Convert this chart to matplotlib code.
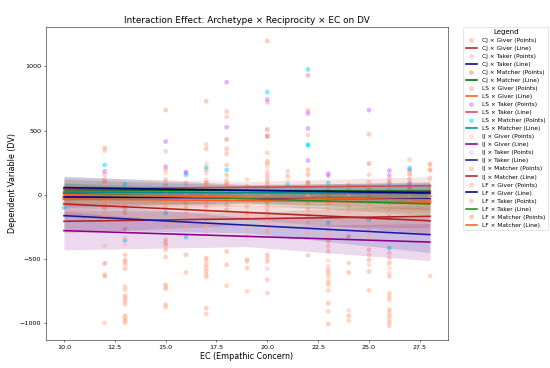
import matplotlib.pyplot as plt

# groups: archetype x reciprocity
groups = ["CJ × Giver", "CJ × Taker", "CJ × Matcher",
          "LS × Giver", "LS × Taker", "LS × Matcher",
          "IJ × Giver", "IJ × Taker", "IJ × Matcher",
          "LF × Giver", "LF × Taker", "LF × Matcher"]

point_colors = ["#ffa07a", "#ffb09a", "#f08080",
                "#ffa07a", "#cc66ff", "#00d8ff",
                "#ffc8a8", "#ffb6c1", "#ffa585",
                "#ffb08a", "#ff9eae", "#ff9966"]

line_colors = ["#b22222", "#00008b", "#006400",
               "#ff5722", "#cd4c4c", "#008b8b",
               "#8b008b", "#1a1aa0", "#b22222",
               "#000080", "#228b22", "#ff6020"]

# raw points, EC value -> list of DV values
cj_giver = {12: [365, 52, -65, -625], 13: [39, -91, -508, -789, -945],
            15: [659, 117, -26, -352, -703], 17: [729, 195, -13, -495, -885],
            18: [648, 154, -39, -443], 20: [1198, 260, 104, -26, -469],
            22: [656, 156, -65], 23: [-13, -365, -612, -846],
            25: [471, 39, -430], 26: [117, -456, -898], 28: [242, 65]}
cj_taker = {12: [343, 26, -1000], 13: [8, -117, -521, -807, -963],
            15: [339, 78, -65, -372, -716], 16: [91, -65],
            17: [391, 117, -52, -513, -930], 18: [607, 102, -78],
            19: [117, -91], 20: [326, 78, -52, -495], 21: [182],
            22: [466, 91, -117], 23: [-65, -404, -638, -911], 24: [78, -534],
            25: [156, -13, -469], 26: [39, -495, -924], 27: [273, 78],
            28: [232, 26]}
cj_matcher = {10: [-30], 12: [-537, 100], 13: [-268], 18: [430],
              20: [508, 461, 451], 22: [930, 96], 24: [-326], 25: [242],
              27: [50]}
ls_giver = {10: [13], 12: [156, 5, -104], 13: [-13, -143, -539, -828, -982],
            15: [195, 39, -104, -391, -734], 16: [52, -104, -469],
            17: [357, 91, -91, -547], 18: [359, 76, 0], 19: [65, -143, -508],
            20: [719, 242, 52, -78, -521], 21: [143], 22: [195, 39, -169],
            23: [39, -443, -677, -1008], 24: [39, -607], 25: [96, -65, -508],
            26: [-13, -534, -951], 27: [182, 39], 28: [190, -13]}
ls_taker = {12: [182], 15: [414, 219], 16: [177, 169], 18: [877, 526],
            20: [742], 22: [633, 516, 266], 23: [148, 164], 25: [659],
            26: [188, 90, 150], 27: [91, 195]}
ls_matcher = {10: [-101], 12: [232], 13: [80, -357], 15: [-143],
              16: [154, -330], 17: [213], 18: [193], 20: [799], 21: [78],
              22: [977, 391, 383], 23: [91, -221], 25: [-195],
              26: [-180, -417], 27: [208]}
ij_giver = {12: [127, -13], 13: [-39, -338], 15: [169, -247], 16: [13, -182],
            17: [242, 26, -143], 18: [331, 117], 19: [13, -182],
            20: [221, 0, -104], 21: [104], 22: [162, -13], 23: [-117, -513],
            24: [0], 25: [91, -117], 26: [-65, -573], 27: [164, 0], 28: [125]}
ij_taker = {12: [117, -39], 13: [-65, -391], 15: [8, -409], 16: [-26, -143],
            17: [169, -195], 18: [313, 39], 19: [-39, -260],
            20: [182, -130, -580], 21: [39], 22: [-221], 23: [-273, -560],
            24: [-39, -904], 25: [-273, -547], 26: [-117, -612, -977],
            27: [123, -40], 28: [130]}
ij_matcher = {12: [86, -156, -638], 13: [-469, -576, -854],
              15: [-430, -487, -859], 16: [-260, -607],
              17: [65, -247, -573, -599], 18: [232, -117, -547],
              19: [-326, -573], 20: [156, -156, -664], 21: [0],
              22: [-299, -474], 23: [-326, -586, -703], 24: [-91, -945],
              25: [-326, -599], 26: [-169, -638, -998], 27: [156, -90],
              28: [195, -52]}
lf_giver = {10: [-65], 12: [-195, -398], 13: [-716, -742, -1000],
            15: [-877, -104], 17: [-299, -625, -643], 18: [-711],
            19: [-521, -755], 20: [-208, -234, -768], 22: [-65], 23: [-747],
            24: [-982], 25: [-747], 26: [-768, -794, -820, -1023], 28: [-633]}
lf_taker = {12: [78], 15: [-26], 17: [-13], 18: [-39], 20: [130, -182, -260],
            22: [-13], 24: [-130], 26: [-65], 27: [117]}
lf_matcher = {10: [-20], 12: [-65], 15: [-65], 17: [91], 18: [78], 19: [-39],
              20: [26, -287], 21: [-52], 22: [39], 23: [-65], 25: [-65],
              27: [-130], 28: [-13]}

points = [cj_giver, cj_taker, cj_matcher, ls_giver, ls_taker, ls_matcher,
          ij_giver, ij_taker, ij_matcher, lf_giver, lf_taker, lf_matcher]

# fitted lines: value at EC 10 and EC 28
fit_ec = [10, 19, 28]
line_start = [-208, -18, 39, -34, 45, 20, -281, -164, -73, 55, 10, 0]
line_end = [-169, -34, 26, -60, 70, 10, -370, -312, -204, 13, -73, -40]
# confidence band half-width at EC 10, 19, 28
ci_half = [[90, 50, 90], [80, 40, 80], [80, 40, 75],
           [80, 40, 80], [90, 45, 70], [70, 35, 70],
           [150, 80, 145], [110, 60, 140], [100, 55, 100],
           [90, 45, 80], [80, 40, 90], [80, 40, 80]]


def main():
    fig, ax = plt.subplots(figsize=(12, 8.03), dpi=550 / 12)

    for i, name in enumerate(groups):
        ec = [k for k, v in points[i].items() for _ in v]
        dv = [y for v in points[i].values() for y in v]
        ax.scatter(ec, dv, s=55, color=point_colors[i], alpha=0.5,
                   edgecolors="none", label=f"{name} (Points)")

        y0, y1 = line_start[i], line_end[i]
        mid = (y0 + y1) / 2
        fit_y = [y0, mid, y1]
        lo = [fit_y[j] - ci_half[i][j] for j in range(3)]
        hi = [fit_y[j] + ci_half[i][j] for j in range(3)]
        ax.plot([10, 28], [y0, y1], color=line_colors[i], lw=2.5,
                label=f"{name} (Line)")
        ax.fill_between(fit_ec, lo, hi, color=line_colors[i], alpha=0.15,
                        linewidth=0)

    ax.set_title("Interaction Effect: Archetype × Reciprocity × EC on DV",
                 fontsize=14)
    ax.set_xlabel("EC (Empathic Concern)", fontsize=12.5)
    ax.set_ylabel("Dependent Variable (DV)", fontsize=12.5)
    ax.tick_params(labelsize=10)
    ax.legend(title="Legend", fontsize=9.2, title_fontsize=11,
              loc="upper left", bbox_to_anchor=(1.03, 1.01))
    fig.subplots_adjust(left=0.083, right=0.815, bottom=0.076, top=0.927)
    fig.savefig("out.png")
    return 0


if __name__ == "__main__":
    main()
